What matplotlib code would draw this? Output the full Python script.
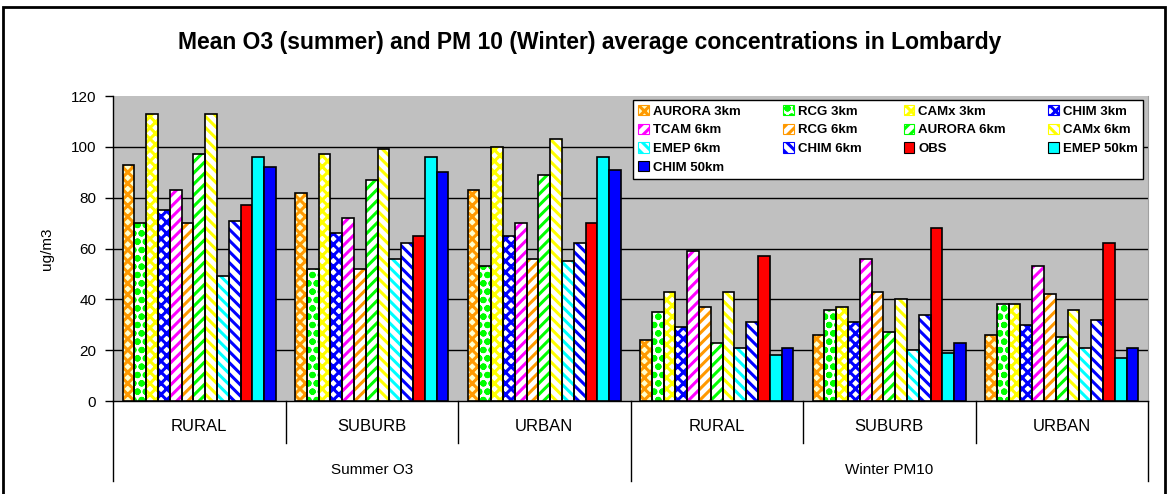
import matplotlib
matplotlib.use('Agg')
import numpy as np
import matplotlib.pyplot as plt
import matplotlib.patches as mpatches
from matplotlib.lines import Line2D

plt.rcParams['font.family'] = ['Liberation Sans', 'DejaVu Sans']
plt.rcParams['hatch.linewidth'] = 2.2

# categories
sites = ['RURAL', 'SUBURB', 'URBAN', 'RURAL', 'SUBURB', 'URBAN']
seasons = ['Summer O3', 'Winter PM10']
models = ['AURORA 3km', 'RCG 3km', 'CAMx 3km', 'CHIM 3km', 'TCAM 6km', 'RCG 6km',
          'AURORA 6km', 'CAMx 6km', 'EMEP 6km', 'CHIM 6km', 'OBS', 'EMEP 50km', 'CHIM 50km']

# values (ug/m3), one per site
aurora3 = [93, 82, 83, 24, 26, 26]
rcg3 = [70, 52, 53, 35, 36, 38]
camx3 = [113, 97, 100, 43, 37, 38]
chim3 = [75, 66, 65, 29, 31, 30]
tcam6 = [83, 72, 70, 59, 56, 53]
rcg6 = [70, 52, 56, 37, 43, 42]
aurora6 = [97, 87, 89, 23, 27, 25]
camx6 = [113, 99, 103, 43, 40, 36]
emep6 = [49, 56, 55, 21, 20, 21]
chim6 = [71, 62, 62, 31, 34, 32]
obs = [77, 65, 70, 57, 68, 62]
emep50 = [96, 96, 96, 18, 19, 17]
chim50 = [92, 90, 91, 21, 23, 21]

series = [aurora3, rcg3, camx3, chim3, tcam6, rcg6, aurora6, camx6, emep6, chim6, obs, emep50, chim50]

# (face, hatch colour, hatch)
styles = [('#FFFFCC', '#FF9900', 'xxx'),
          ('white', '#00FF00', 'oo'),
          ('white', '#FFFF00', 'xxx'),
          ('white', '#0000FF', 'xxx'),
          ('white', '#FF00FF', '///'),
          ('white', '#FF9900', '///'),
          ('white', '#00FF00', '///'),
          ('white', '#FFFF00', '\\\\\\'),
          ('white', '#00FFFF', '\\\\\\'),
          ('white', '#0000FF', '\\\\\\'),
          ('#FF0000', None, None),
          ('#00FFFF', None, None),
          ('#0000FF', None, None)]

fig = plt.figure(figsize=(11.69, 4.94), dpi=100)
ax = fig.add_axes([113/1169, 93/494, 1035/1169, 305/494])
ax.set_facecolor('#C0C0C0')

x = np.arange(len(sites))
w = 0.0684
for i, vals in enumerate(series):
    face, hc, h = styles[i]
    pos = x + (i - 6) * w
    if h:
        ax.bar(pos, vals, w, color=face, edgecolor=hc, hatch=h, linewidth=0, zorder=3)
        ax.bar(pos, vals, w, fill=False, edgecolor='black', linewidth=1.2, zorder=4)
    else:
        ax.bar(pos, vals, w, color=face, edgecolor='black', linewidth=1.2, zorder=3)

for yv in [20, 40, 60, 80, 100]:
    ax.axhline(yv, color='black', linewidth=1, zorder=1)

ax.set_xlim(-0.5, 5.5)
ax.set_ylim(0, 120)
ax.set_yticks([0, 20, 40, 60, 80, 100, 120])
ax.set_xticks([])
ax.tick_params(axis='y', direction='out', length=6, width=1, labelsize=11, pad=6)
ax.spines['top'].set_visible(False)
ax.spines['right'].set_color('#A0A0A0')
ax.spines['left'].set_linewidth(1)
ax.spines['bottom'].set_linewidth(1)
ax.set_ylabel('ug/m3', fontsize=11, labelpad=12)

# category axis below the plot
trans = ax.get_xaxis_transform()
for i, s in enumerate(sites):
    ax.text(i, -0.085, s, transform=trans, ha='center', va='center', fontsize=12)
for j, s in enumerate(seasons):
    ax.text(1 + 3 * j, -0.225, s, transform=trans, ha='center', va='center', fontsize=11)
for bx in [-0.5, 0.5, 1.5, 2.5, 3.5, 4.5, 5.5]:
    low = -0.262 if bx in (-0.5, 2.5, 5.5) else -0.138
    ax.add_line(Line2D([bx, bx], [0, low], transform=trans, color='black',
                       linewidth=1, clip_on=False))

# legend, row-major order like the original
handles = [mpatches.Patch(facecolor=f, edgecolor=(hc if hc else 'black'), hatch=h, linewidth=0.8)
           for f, hc, h in styles]
order = [0, 4, 8, 12, 1, 5, 9, 2, 6, 10, 3, 7, 11]
leg = ax.legend([handles[k] for k in order], [models[k] for k in order], ncol=4,
                loc='upper left', bbox_to_anchor=(633/1169, 1 - 183/494, 510/1169, 83/494),
                bbox_transform=fig.transFigure, mode='expand', fancybox=False,
                framealpha=1, edgecolor='black', borderaxespad=0, borderpad=0.4,
                handlelength=0.8, handleheight=0.8, handletextpad=0.3,
                labelspacing=0.45, prop={'weight': 'bold', 'size': 9.5})
leg.get_frame().set_linewidth(1)
leg.set_zorder(10)

fig.text(590/1169, 1 - 42/494, 'Mean O3 (summer) and PM 10 (Winter) average concentrations in Lombardy',
         ha='center', va='center', fontsize=16.5, fontweight='bold')

fig.patches.append(mpatches.Rectangle((3/1169, -0.05), 1162/1169, 1.05 - 7/494, fill=False,
                                      edgecolor='black', linewidth=2, transform=fig.transFigure))

fig.savefig('out.png', dpi=100)
